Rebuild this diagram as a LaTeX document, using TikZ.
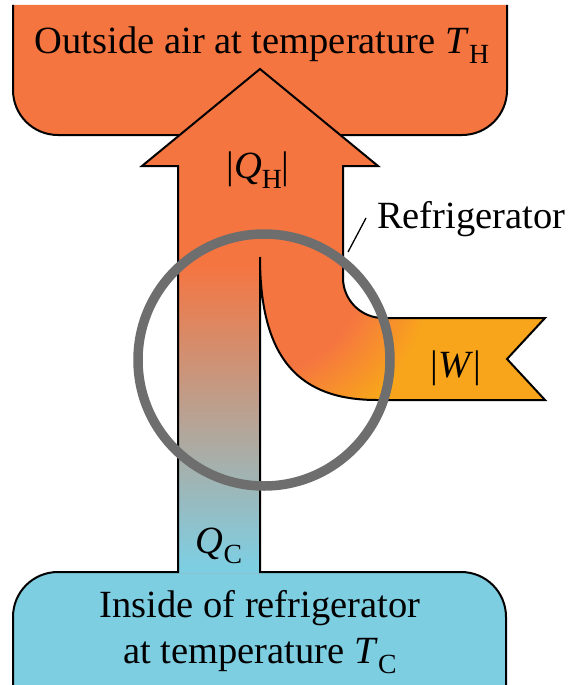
\documentclass[tikz,border=0pt]{standalone}
\usepackage{fontspec}
\setmainfont{Liberation Serif}
\usepackage{graphicx}
\newcommand\lsub[1]{\raisebox{-0.27em}{\scalebox{0.72}{#1}}}
\definecolor{orng}{RGB}{245,117,65}
\definecolor{yel}{RGB}{248,165,27}
\definecolor{blu}{RGB}{126,206,226}
\definecolor{ringgray}{RGB}{110,110,110}
\pgfdeclareradialshading{bendshade}{\pgfpoint{0bp}{0bp}}{color(0bp)=(orng); color(8.5bp)=(orng); color(13.6bp)=(yel); color(50bp)=(yel)}
\begin{document}
\begin{tikzpicture}[x=1pt,y=-1pt,
  edge/.style={draw=black, line width=2pt, line join=miter},
  lbl/.style={font=\fontsize{38.5}{46}\selectfont, inner sep=0pt, anchor=base}]
\useasboundingbox (0,0) rectangle (571,685);
% top box
\fill[orng] (13,5) -- (13,90) .. controls (13,115) and (33,135) .. (58,135) -- (462,135) .. controls (487,135) and (507,115) .. (507,90) -- (507,5) -- cycle;
\draw[edge] (13,5) -- (13,90) .. controls (13,115) and (33,135) .. (58,135) -- (462,135) .. controls (487,135) and (507,115) .. (507,90) -- (507,5);
% bottom box
\fill[blu] (13,686) -- (13,617) .. controls (13,592) and (33,572) .. (58,572) -- (461,572) .. controls (486,572) and (506,592) .. (506,617) -- (506,686) -- cycle;
% arrow fill
\begin{scope}
\clip (178,573) -- (178,166) -- (142,166) -- (260,69) -- (378,166) -- (343,166) -- (343,278) .. controls (343,300) and (361,318) .. (383,318) -- (545,318) -- (507,359) -- (545,400) -- (377,400) .. controls (300,400) and (260,360) .. (260,257) -- (260,573) -- cycle;
\fill[orng] (130,60) rectangle (560,580);
\shade[top color=orng, bottom color=blu] (170,265) rectangle (265,565);
\fill[blu] (170,564) rectangle (265,580);
\begin{scope}
\clip (260,250) rectangle (560,410);
\shade[shading=bendshade] (250,260) circle[radius=340pt];
\end{scope}
\end{scope}
% outline
\draw[edge] (13,686) -- (13,617) .. controls (13,592) and (33,572) .. (58,572) -- (178,572) -- (178,166) -- (142,166) -- (260,69) -- (378,166) -- (343,166) -- (343,278) .. controls (343,300) and (361,318) .. (383,318) -- (545,318) -- (507,359) -- (545,400) -- (377,400) .. controls (300,400) and (260,360) .. (260,257) -- (260,572) -- (461,572) .. controls (486,572) and (506,592) .. (506,617) -- (506,686);
% ring
\coordinate (ringc) at (264,360);
\draw[ringgray, line width=9.5pt] (ringc) circle[radius=126pt];
% labels
\node[lbl] (outside) at (262,53) {Outside air at temperature \textit{T}\lsub{H}};
\node[lbl] (qh) at (258,178) {|\textit{Q}\lsub{H}|};
\node[lbl, anchor=base west] (refr) at (377,228) {Refrigerator};
\node[lbl] (w) at (456,377) {|\textit{W}|};
\node[lbl] (qc) at (219,553) {\textit{Q}\lsub{C}};
\node[lbl] (in1) at (260,617) {Inside of refrigerator};
\node[lbl] (in2) at (260,663) {at temperature \textit{T}\lsub{C}};
\coordinate (leadA) at (348,252);
\coordinate (leadB) at (366,218);
\draw[line width=1.3pt] (leadA) -- (leadB);
\end{tikzpicture}
\end{document}
